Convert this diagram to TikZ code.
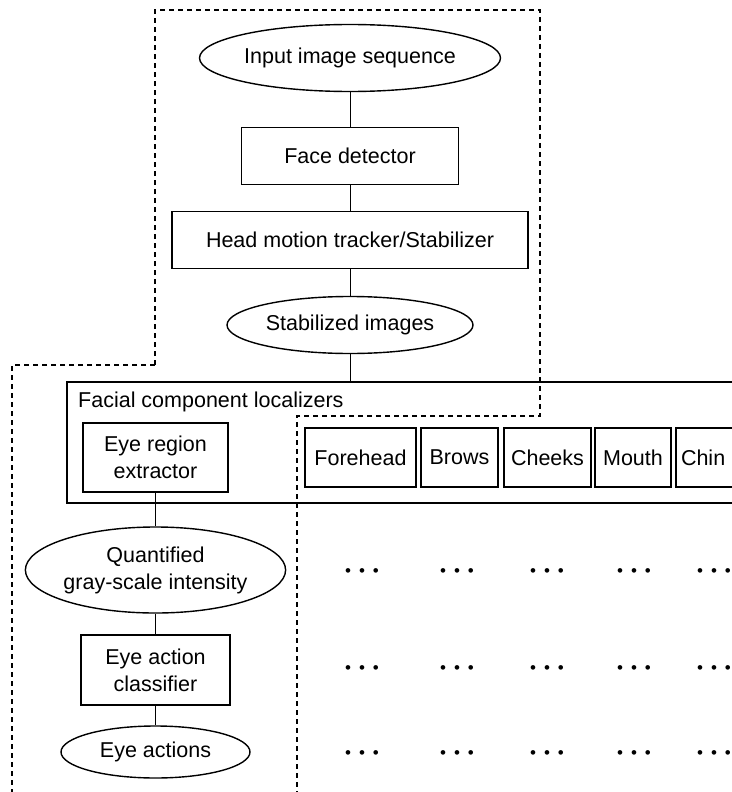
\documentclass[tikz,border=0pt]{standalone}
\usepackage{fontspec}
\setmainfont{Liberation Sans}
\usetikzlibrary{shapes.geometric}

\tikzset{
  procbox/.style={draw,rectangle,line width=1.4pt,align=center,inner sep=0pt},
  databox/.style={draw,ellipse,line width=1.4pt,align=center,inner sep=0pt},
  link/.style={line width=0.9pt},
  region/.style={line width=1.3pt,dash pattern=on 5pt off 4pt},
  dotrow/.style={inner sep=0pt,font=\fontsize{17}{17}\selectfont}
}

\begin{document}
\begin{tikzpicture}[x=1pt,y=-1pt,font=\fontsize{21.5}{27}\selectfont]
  \useasboundingbox (0,0) rectangle (731,792);

  % dashed regions
  \draw[region] (155,365) -- (155,10) -- (540,10) -- (540,416) -- (297,416) -- (297,800);
  \draw[region] (155,365) -- (12,365) -- (12,800);

  % main chain
  \node[databox,minimum width=301pt,minimum height=67pt](input) at (350,58){Input image sequence};
  \node[procbox,minimum width=217pt,minimum height=57pt](face) at (350,156){Face detector};
  \node[procbox,minimum width=356pt,minimum height=57pt](head) at (350,240){Head motion tracker/Stabilizer};
  \node[databox,minimum width=246pt,minimum height=57pt](stab) at (350,325){Stabilized images};

  % facial component localizers
  \node[draw,rectangle,line width=1.4pt,minimum width=680pt,minimum height=121pt](local) at (407,442.5){};
  \node[anchor=west,inner sep=0pt](localtitle) at (78,402){Facial component localizers};
  \node[procbox,minimum width=145pt,minimum height=69pt](eyeext) at (155.5,457.5){Eye region\\extractor};
  \node[procbox,minimum width=111pt,minimum height=59pt](forehead) at (360.5,457.5){Forehead};
  \node[procbox,minimum width=77pt,minimum height=59pt](brows) at (459.5,457.5){Brows};
  \node[procbox,minimum width=87pt,minimum height=59pt](cheeks) at (547.5,457.5){Cheeks};
  \node[procbox,minimum width=76pt,minimum height=59pt](mouth) at (633,457.5){Mouth};
  \node[procbox,minimum width=64pt,minimum height=59pt,text width=64pt,align=left](chin) at (708,457.5){\hspace{5pt}Chin};

  % eye branch
  \node[databox,minimum width=259pt,minimum height=86pt](quant) at (155.5,570){Quantified\\gray-scale intensity};
  \node[procbox,minimum width=149pt,minimum height=70pt](eyecls) at (155.5,670){Eye action\\classifier};
  \node[databox,minimum width=189pt,minimum height=52pt](eyeact) at (155.5,752){Eye actions};

  % other components (omitted)
  \foreach \x [count=\i] in {362,457,547,634,714}
    \foreach \y [count=\j] in {573,670,755}
      \node[dotrow](dots-\i-\j) at (\x,\y){\textbullet\hspace{8pt}\textbullet\hspace{8pt}\textbullet};

  \draw[link] (input) -- (face);
  \draw[link] (face) -- (head);
  \draw[link] (head) -- (stab);
  \draw[link] (stab) -- (stab |- local.north);
  \draw[link] (eyeext) -- (quant);
  \draw[link] (quant) -- (eyecls);
  \draw[link] (eyecls) -- (eyeact);
\end{tikzpicture}
\end{document}
